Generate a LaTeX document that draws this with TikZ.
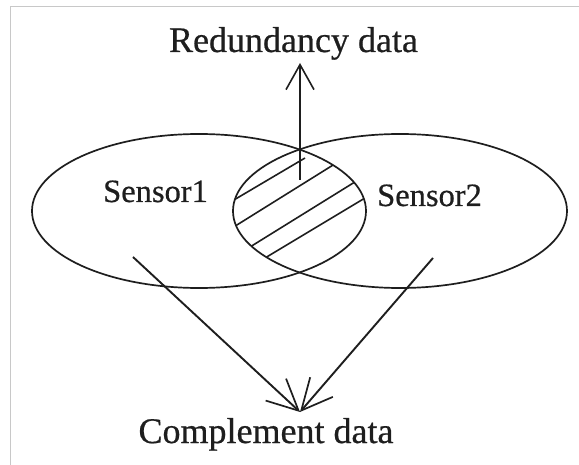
\documentclass[tikz,border=0pt]{standalone}
\usepackage{fontspec}
\setmainfont{Liberation Serif}[FakeBold=0.6]
\usetikzlibrary{arrows.meta}
\definecolor{ink}{HTML}{1E1E1E}
\definecolor{framegray}{HTML}{C8C8C8}
\tikzset{
  stroke/.style={draw=ink, line width=1.7pt},
  label/.style={text=ink, inner sep=0pt, font=\fontsize{36}{40}\selectfont},
  sensorlabel/.style={text=ink, inner sep=0pt, font=\fontsize{32.5}{36}\selectfont},
  uparrow/.style={stroke, -{Straight Barb[length=25pt, width=28pt, line width=1.6pt]}},
  downarrow/.style={stroke, line width=1.9pt, -{Straight Barb[length=31pt, width=30pt, line width=1.7pt]}},
  hatch/.style={stroke, line width=1.6pt}
}
\begin{document}
\begin{tikzpicture}[x=1pt, y=-1pt]
  \useasboundingbox (0,0) rectangle (579,465);

  % light frame (left and top edges)
  \draw[framegray, line width=1.3pt] (10.5,465) -- (10.5,6.5) -- (579,6.5);

  % hatching of the overlap of the two sensor ranges
  \begin{scope}
    \clip (199,211) ellipse [x radius=167pt, y radius=77pt];
    \clip (400,211) ellipse [x radius=167pt, y radius=77pt];
    \draw[hatch] (200,220) -- (305,158);
    \draw[hatch] (200,248) -- (370,142);
    \draw[hatch] (200,278) -- (380,166.4);
    \draw[hatch] (220,285) -- (400,177);
  \end{scope}

  % sensor ranges
  \draw[stroke] (199,211) ellipse [x radius=167pt, y radius=77pt];
  \draw[stroke] (400,211) ellipse [x radius=167pt, y radius=77pt];

  % labels
  \node[label, anchor=base] (red) at (293.5,52) {Redundancy data};
  \node[label, anchor=base] (comp) at (266,443) {Complement data};
  \node[sensorlabel, anchor=base west] (s1) at (103,202) {Sensor1};
  \node[sensorlabel, anchor=base west] (s2) at (377,206) {Sensor2};

  % arrow ends
  \coordinate (overlap) at (300,180);
  \coordinate (redtip) at (300,63);
  \coordinate (from1) at (133,257);
  \coordinate (from2) at (433,258);
  \coordinate (comptip) at (300,412);

  % connectors
  \draw[uparrow] (overlap) -- (redtip);
  \draw[downarrow] (from1) -- (comptip);
  \draw[downarrow] (from2) -- (comptip);
\end{tikzpicture}
\end{document}
